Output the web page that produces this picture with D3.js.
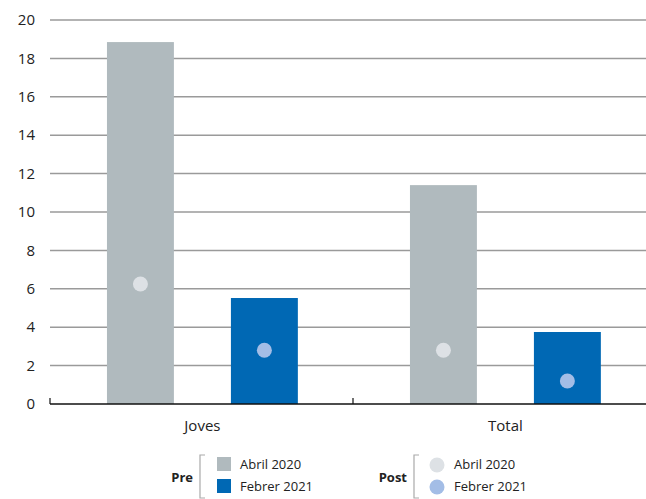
<!DOCTYPE html>
<html>
<head>
<meta charset="utf-8">
<script src="https://cdn.jsdelivr.net/npm/d3@7"></script>
<style>
  body { margin: 0; background: #fff; }
  text { font-family: "Open Sans", sans-serif; }
</style>
</head>
<body>
<script>
// data
var groups = ["Joves", "Total"];
var series = ["Abril 2020", "Febrer 2021"];
var preValues = [[18.85, 5.52], [11.4, 3.75]];
var postValues = [[6.25, 2.8], [2.8, 1.2]];
var yTicks = [0, 2, 4, 6, 8, 10, 12, 14, 16, 18, 20];

var barColors = ["#b0babe", "#0068b4"];
var dotColors = ["#dde1e5", "#a3bde6"];

var W = 646, H = 499;
var svg = d3.select("body").append("svg")
  .attr("width", W)
  .attr("height", H);

var y = d3.scaleLinear().domain([0, 20]).range([404, 20]);
var x = d3.scaleBand().domain(groups).range([50, 656]);
var xs = d3.scaleBand().domain(series)
  .range([x.bandwidth() * 0.188, x.bandwidth() * 0.818])
  .paddingInner(0.46);

//grid
svg.append("g").selectAll("line")
  .data(yTicks.slice(1))
  .enter().append("line")
  .attr("x1", 50).attr("x2", W)
  .attr("y1", function (d) { return y(d); })
  .attr("y2", function (d) { return y(d); })
  .style("stroke", "#9a9a9a")
  .style("stroke-width", 1.5);

//y labels
svg.append("g").selectAll("text")
  .data(yTicks)
  .enter().append("text")
  .attr("x", 35)
  .attr("y", function (d) { return y(d); })
  .attr("dy", "0.35em")
  .attr("text-anchor", "end")
  .style("font-size", "15px")
  .style("fill", "#222")
  .text(function (d) { return d; });

//bars + dots
var g = svg.selectAll(".grp")
  .data(groups)
  .enter().append("g")
  .attr("transform", function (d) { return "translate(" + x(d) + ",0)"; });

g.selectAll("rect")
  .data(function (d, i) { return series.map(function (s, j) { return { s: s, v: preValues[i][j], j: j }; }); })
  .enter().append("rect")
  .attr("x", function (d) { return xs(d.s); })
  .attr("width", xs.bandwidth())
  .attr("y", function (d) { return y(d.v); })
  .attr("height", function (d) { return y(0) - y(d.v); })
  .style("fill", function (d) { return barColors[d.j]; });

g.selectAll("circle")
  .data(function (d, i) { return series.map(function (s, j) { return { s: s, v: postValues[i][j], j: j }; }); })
  .enter().append("circle")
  .attr("cx", function (d) { return xs(d.s) + xs.bandwidth() / 2; })
  .attr("cy", function (d) { return y(d.v); })
  .attr("r", 7.5)
  .style("fill", function (d) { return dotColors[d.j]; });

//x axis
svg.append("line")
  .attr("x1", 50).attr("x2", W)
  .attr("y1", y(0)).attr("y2", y(0))
  .style("stroke", "#111").style("stroke-width", 1.5);

svg.append("g").selectAll("line")
  .data([50, x("Total")])
  .enter().append("line")
  .attr("x1", function (d) { return d; })
  .attr("x2", function (d) { return d; })
  .attr("y1", y(0) - 6).attr("y2", y(0))
  .style("stroke", "#111").style("stroke-width", 1.2);

svg.append("g").selectAll("text")
  .data(groups)
  .enter().append("text")
  .attr("x", function (d) { return x(d) + (xs.range()[0] + xs.range()[1]) / 2; })
  .attr("y", 431)
  .attr("text-anchor", "middle")
  .style("font-size", "15px")
  .style("fill", "#222")
  .text(function (d) { return d; });

//legend
function legend(x0, title, kind, colors) {
  var lg = svg.append("g").attr("transform", "translate(" + x0 + ",0)");
  lg.append("text")
    .attr("x", 0).attr("y", 477).attr("dy", "0.35em")
    .attr("text-anchor", "end")
    .style("font-size", "13px").style("font-weight", "bold").style("fill", "#222")
    .text(title);
  lg.append("polyline")
    .attr("points", "12 455, 7 455, 7 498, 12 498")
    .style("fill", "none").style("stroke", "#aaa").style("stroke-width", 1.2);
  series.forEach(function (s, j) {
    var cy = 464 + j * 22;
    if (kind === "rect") {
      lg.append("rect").attr("x", 24).attr("y", cy - 7).attr("width", 14).attr("height", 14)
        .style("fill", colors[j]);
    } else {
      lg.append("circle").attr("cx", 30).attr("cy", cy + 1).attr("r", 7.5)
        .style("fill", colors[j]);
    }
    lg.append("text")
      .attr("x", 47).attr("y", cy).attr("dy", "0.35em")
      .style("font-size", "13px").style("fill", "#222")
      .text(s);
  });
}
legend(193, "Pre", "rect", barColors);
legend(407, "Post", "circle", dotColors);
</script>
</body>
</html>
